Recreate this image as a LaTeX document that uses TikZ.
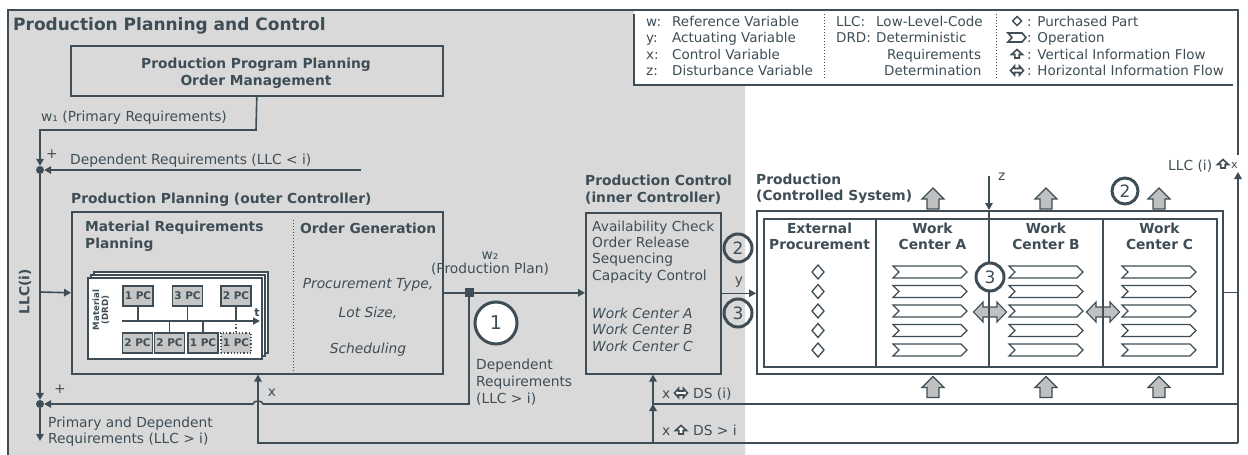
\documentclass[tikz,border=0pt]{standalone}
\usepackage{fontspec}
\setmainfont{DejaVu Sans}
\usetikzlibrary{arrows.meta}
\definecolor{ink}{RGB}{62,77,86}
\definecolor{bggray}{RGB}{217,217,217}
\definecolor{pcfill}{RGB}{198,198,198}
\definecolor{blockfill}{RGB}{192,192,192}
\newcommand{\fsn}{\fontsize{13.8}{16.5}\selectfont}
\newcommand{\fsl}{\fontsize{13.5}{16.5}\selectfont}
\newcommand{\fsx}[1]{\fontsize{13.8}{#1}\selectfont}
\tikzset{
  ln/.style={draw=ink, line width=1.6pt},
  arr/.style={ln, -{Triangle[length=7pt,width=7.5pt]}},
  lbl/.style={text=ink, inner sep=0pt, font=\fsn, anchor=north west},
  blbl/.style={lbl, font=\fsn\bfseries},
  ilbl/.style={lbl, font=\fsn\itshape},
  leg/.style={text=ink, inner sep=0pt, font=\fsl, anchor=base west},
  boxn/.style={draw=ink, line width=1.6pt, inner sep=0pt, anchor=north west},
  dotn/.style={circle, fill=ink, minimum size=8pt, inner sep=0pt},
  numc/.style={circle, draw=ink, line width=3pt, inner sep=0pt, text=ink, font=\fontsize{17}{17}\selectfont},
  pcbox/.style={draw=ink, fill=pcfill, line width=1.2pt, minimum width=30pt, minimum height=20pt, inner sep=0pt, text=ink, font=\fontsize{10.5}{11}\selectfont\bfseries},
  sheet/.style={draw=ink, fill=white, line width=1.5pt},
  blk/.style={draw=ink, fill=blockfill, line width=1.1pt, line join=miter},
  icn/.style={draw=ink, fill=white, line width=1.6pt, line join=miter},
  uparr/.pic={\path[blk] (-6,0) -- (-6,-10) -- (-11,-10) -- (0,-21) -- (11,-10) -- (6,-10) -- (6,0) -- cycle;},
  lrarr/.pic={\path[blk] (-16.5,0) -- (-7,-10) -- (-7,-5) -- (7,-5) -- (7,-10) -- (16.5,0) -- (7,10) -- (7,5) -- (-7,5) -- (-7,10) -- cycle;},
  smallup/.pic={\path[icn] (-2.2,4) -- (-2.2,0.5) -- (-5.5,0.5) -- (0,-4.5) -- (5.5,0.5) -- (2.2,0.5) -- (2.2,4) -- cycle;},
  smalllr/.pic={\path[icn] (-6.5,0) -- (-2.5,-4.5) -- (-2.5,-2) -- (2.5,-2) -- (2.5,-4.5) -- (6.5,0) -- (2.5,4.5) -- (2.5,2) -- (-2.5,2) -- (-2.5,4.5) -- cycle;},
  chev/.pic={\path[draw=ink, fill=white, line width=1.2pt] (0,-6) -- (68,-6) -- (74,0) -- (68,6) -- (0,6) -- (6,0) -- cycle;},
  diam/.pic={\path[draw=ink, fill=white, line width=1.3pt] (0,-7) -- (6,0) -- (0,7) -- (-6,0) -- cycle;},
}
\begin{document}
\begin{tikzpicture}[x=1pt,y=-1pt]
\useasboundingbox (0,0) rectangle (1248,455);
\fill[white] (0,0) rectangle (1248,455);
\fill[bggray] (8,10) -- (634,10) -- (634,85) -- (745,85) -- (745,455) -- (8,455) -- cycle;
\draw[ink, line width=1.3pt] (8,455) -- (8,10) -- (1238,10) -- (1238,155);
\draw[ink, line width=2pt] (634,14) -- (634,85) -- (1233,85);

% title
\node[lbl, font=\fontsize{17}{20}\selectfont\bfseries] (title) at (13,17.5) {Production Planning and Control};

% legend
\node[leg] (lw) at (646,26) {w:};
\node[leg] (lwt) at (672,26) {Reference Variable};
\node[leg] (ly) at (646,42.5) {y:};
\node[leg] (lyt) at (672,42.5) {Actuating Variable};
\node[leg] (lx) at (646,59) {x:};
\node[leg] (lxt) at (672,59) {Control Variable};
\node[leg] (lz) at (646,75.5) {z:};
\node[leg] (lzt) at (672,75.5) {Disturbance Variable};
\draw[ink, line width=1pt, dotted] (824,14) -- (824,80);
\node[leg] (lllc) at (836,26) {LLC:};
\node[leg] (lllct) at (876,26) {Low-Level-Code};
\node[leg] (ldrd) at (836,42.5) {DRD:};
\node[leg] (ldrd1) at (876,42.5) {Deterministic};
\node[leg] (ldrd2) at (887,59) {Requirements};
\node[leg] (ldrd3) at (884,75.5) {Determination};
\draw[ink, line width=1pt, dotted] (996,14) -- (996,80);
\draw[ink, line width=1.4pt, fill=white] (1017,16.5) -- (1021.5,21) -- (1017,25.5) -- (1012.5,21) -- cycle;
\node[leg] (lpp) at (1027,26) {: Purchased Part};
\draw[ink, line width=1.6pt] (1008,33) -- (1022,33) -- (1026,37.5) -- (1022,42) -- (1008,42) -- (1012,37.5) -- cycle;
\node[leg] (lop) at (1027,42.5) {: Operation};
\pic at (1017,54) {smallup};
\node[leg] (lvit) at (1027,59) {: Vertical Information Flow};
\pic at (1017,70.5) {smalllr};
\node[leg] (lhit) at (1027,75.5) {: Horizontal Information Flow};

% Production program planning
\node[boxn, minimum width=372pt, minimum height=50pt] (ppp) at (70,45) {};
\node[blbl, anchor=north, align=center, font=\fsx{17}\bfseries] (ppptxt) at (256,57.5) {Production Program Planning\\Order Management};

% summing junctions
\node[dotn] (sumA) at (40,170) {};
\node[dotn] (sumB) at (40,404) {};
\coordinate (dreqA) at (361,170);
\coordinate (brA) at (40,292);
\coordinate (outB) at (40,441);

\node[lbl] (w1lbl) at (41,111) {w₁ (Primary Requirements)};
\node[lbl, anchor=center] (plusA) at (52,154) {+};
\node[lbl] (dreqAlbl) at (70,153.5) {Dependent Requirements (LLC < i)};
\node[blbl, rotate=90, anchor=center] (llci) at (25,292) {LLC(i)};
\node[lbl, anchor=center] (plusB) at (60,389) {+};
\node[lbl, align=left, font=\fsx{16}] (pdreq) at (48,416.5) {Primary and Dependent\\Requirements (LLC > i)};

% Production planning box
\node[blbl] (pplbl) at (71,192.5) {Production Planning (outer Controller)};
\node[boxn, minimum width=371pt, minimum height=162pt] (pp) at (71,211) {};
\node[blbl, align=left, font=\fsx{17}\bfseries] (mrp) at (85,220.5) {Material Requirements\\Planning};
\node[blbl] (og) at (300,222.5) {Order Generation};
\draw[ink, line width=1pt, dotted] (293,220) -- (293,372);
\node[ilbl, anchor=base] (og1) at (368,288) {Procurement Type,};
\node[ilbl, anchor=base] (og2) at (368,317) {Lot Size,};
\node[ilbl, anchor=base] (og3) at (368,353) {Scheduling};

% stacked sheets
\draw[sheet] (94,272) rectangle (268,353);
\draw[sheet] (91,275) rectangle (265,356);
\draw[sheet] (88,278) rectangle (262,359);
\node[text=ink, inner sep=0pt, rotate=90, align=center, font=\fontsize{8.6}{9}\selectfont\bfseries] (mat) at (101,310) {Material\\(DRD)};
\coordinate (axL) at (122,321);
\coordinate (axR) at (260,321);
\draw[ink, line width=1.5pt, -{Triangle[length=7pt,width=7pt]}] (axL) -- (axR);
\node[text=ink, inner sep=0pt, font=\fontsize{11}{12}\selectfont\bfseries, anchor=base] (tl) at (257,316) {t};
\node[pcbox] (t1) at (138,296) {1 PC};
\node[pcbox] (t2) at (187.5,296) {3 PC};
\node[pcbox] (t3) at (236,296) {2 PC};
\node[pcbox] (b1) at (137.5,343) {2 PC};
\node[pcbox] (b2) at (169.5,343) {2 PC};
\node[pcbox] (b3) at (203,343) {1 PC};
\node[pcbox, dotted, line width=1.5pt] (b4) at (236,343) {1 PC};
\draw[ink, line width=1.3pt] (t1.south) -- (t1.south |- axL);
\draw[ink, line width=1.3pt] (t2.south) -- (t2.south |- axL);
\draw[ink, line width=1.3pt] (t3.south) -- (t3.south |- axL);
\draw[ink, line width=1.3pt] (b2.north) -- (b2.north |- axL);
\draw[ink, line width=1.3pt] (b3.north) -- (b3.north |- axL);
\draw[ink, line width=1.2pt, dotted] (b4.north |- axL) -- (b4.north);

% production control
\node[blbl, align=left, font=\fsx{17}\bfseries] (pclbl) at (585,174.5) {Production Control\\(inner Controller)};
\node[boxn, minimum width=135pt, minimum height=161pt] (pc) at (585,212) {};
\node[lbl, align=left, font=\fsx{16.4}] (pctxt) at (592,220.5) {Availability Check\\Order Release\\Sequencing\\Capacity Control};
\node[ilbl, align=left, font=\fsx{16.5}\itshape] (pcwc) at (592,307.5) {Work Center A\\Work Center B\\Work Center C};

% production (controlled system)
\node[blbl, align=left, font=\fsx{16.5}\bfseries] (prlbl) at (756,173.5) {Production\\(Controlled System)};
\node[boxn, fill=white, minimum width=466pt, minimum height=163pt] (prod) at (756,210) {};
\node[boxn, fill=white, minimum width=453pt, minimum height=148pt] (prodin) at (763,218) {};
\foreach \yy in {272,291.5,311,330.5,350} {
  \pic at (818,\yy) {diam};
  \pic at (893,\yy) {chev};
  \pic at (1009,\yy) {chev};
  \pic at (1122,\yy) {chev};
}
\pic at (990,312) {lrarr};
\pic at (1103,312) {lrarr};
\draw[ln, line width=1.5pt] (876,218) -- (876,366);
\draw[ln, line width=1.5pt] (989,210) -- (989,366);
\draw[ln, line width=1.5pt] (1103,218) -- (1103,366);
\node[blbl, anchor=north, align=center, font=\fsx{16.5}\bfseries] (hext) at (819.5,222.5) {External\\Procurement};
\node[blbl, anchor=north, align=center, font=\fsx{16.5}\bfseries] (hwa) at (932.5,222.5) {Work\\Center A};
\node[blbl, anchor=north, align=center, font=\fsx{16.5}\bfseries] (hwb) at (1046,222.5) {Work\\Center B};
\node[blbl, anchor=north, align=center, font=\fsx{16.5}\bfseries] (hwc) at (1159.5,222.5) {Work\\Center C};
\foreach \xx in {933,1046,1159} {
  \pic at (\xx,209) {uparr};
  \pic at (\xx,397.5) {uparr};
}
\coordinate (zs) at (989,176);
\draw[arr] (zs) -- (prod.north -| zs);
\node[lbl, anchor=base west] (zl) at (998,180.5) {z};

% connectors
\draw[arr] (ppp.south) -- (256,130) -- (40,130) -- (sumA);
\draw[arr] (dreqA) -- (sumA);
\draw[arr] (sumA) -- (sumB);
\draw[arr] (brA) -- (pp.west);
\draw[arr] (sumB) -- (outB);
\draw[arr] (pp.east) -- (pp.east -| pc.west);
\node[fill=ink, minimum size=9pt, inner sep=0pt] (jw2) at (469,292) {};
\draw[arr] (jw2) -- (469,404) -- (263,404) to[out=90,in=90] (253,404) -- (sumB);
\draw[arr] (pc.east) -- (pc.east -| prod.west);
\coordinate (fbR) at (1238,443);
\coordinate (fbL) at (258,443);
\coordinate (dsA) at (653,443);
\coordinate (dsB) at (653,404);
\coordinate (rtop) at (1238,172);
\draw[arr] (fbR) -- (fbL) -- (pp.south -| fbL);
\draw[arr] (dsA) -- (dsB);
\draw[arr] (1238,404) -- (dsB) -- (pc.south -| dsB);
\draw[ln] (prod.east) -- (prod.east -| fbR);
\draw[arr] (fbR) -- (rtop);

% connector labels
\node[lbl, anchor=base] (w2l) at (490,259.5) {w₂};
\node[lbl, anchor=base] (ppl) at (490,273.5) {(Production Plan)};
\node[lbl, align=left, font=\fsx{17}] (dreqB) at (476,358.5) {Dependent\\Requirements\\(LLC > i)};
\node[lbl, anchor=base] (yl) at (739,284) {y};
\node[lbl, anchor=base] (xl) at (272,396) {x};
\node[lbl, anchor=base west] (dsix) at (662,398) {x};
\pic at (681,393) {smalllr};
\node[lbl, anchor=base west] (dsit) at (693,398) {DS (i)};
\node[lbl, anchor=base west] (dsgx) at (662,435) {x};
\pic at (681,430) {smallup};
\node[lbl, anchor=base west] (dsgt) at (693,435) {DS > i};
\node[lbl, anchor=base west] (llcx) at (1168,170) {LLC (i)};
\pic at (1223,164) {smallup};
\node[lbl, anchor=base west, font=\fontsize{11}{12}\selectfont] (llcxx) at (1231,168) {x};

% numbered circles
\node[numc, fill=white, minimum size=42pt, font=\fontsize{19}{19}\selectfont] (c1) at (496,323) {1};
\node[numc, minimum size=28pt] (c2a) at (738,248) {2};
\node[numc, minimum size=28pt] (c3a) at (738,313) {3};
\node[numc, fill=white, minimum size=28pt] (c3b) at (990,277) {3};
\node[numc, fill=white, minimum size=26pt] (c2b) at (1125,191) {2};
\end{tikzpicture}
\end{document}
